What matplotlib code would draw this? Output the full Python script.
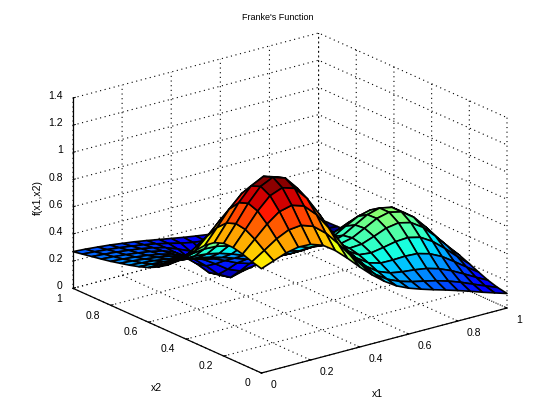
import numpy as np
import matplotlib
matplotlib.use("Agg")
import matplotlib.pyplot as plt
from matplotlib.transforms import Affine2D
from mpl_toolkits.mplot3d import proj3d

plt.rcParams['font.family'] = ['Liberation Sans', 'DejaVu Sans']

title = "Franke's Function"
x_ticks = [0, 0.2, 0.4, 0.6, 0.8, 1]
z_ticks = [0, 0.2, 0.4, 0.6, 0.8, 1, 1.2, 1.4]
z_labels = ['0', '0.2', '0.4', '0.6', '0.8', '1', '1.2', '1.4']
x_labels = ['0', '0.2', '0.4', '0.6', '0.8', '1']

x1 = [0, .05, .1, .15, .2, .25, .3, .35, .4, .45, .5, .55, .6, .65, .7, .75, .8, .85, .9, .95, 1]
x2 = list(x1)
# heights: one row per x2 value, one column per x1 value
heights = [
 [.767,.801,.835,.854,.851,.820,.758,.677,.589,.507,.436,.378,.337,.306,.278,.252,.224,.195,.164,.135,.107],
 [.787,.846,.907,.950,.960,.928,.855,.754,.644,.541,.457,.396,.356,.330,.310,.289,.262,.230,.192,.155,.120],
 [.812,.898,.985,1.053,1.076,1.047,.961,.839,.704,.582,.486,.422,.387,.371,.362,.348,.322,.284,.237,.188,.141],
 [.829,.938,1.050,1.138,1.173,1.145,1.048,.909,.755,.618,.515,.454,.428,.427,.431,.426,.401,.357,.296,.232,.170],
 [.829,.950,1.076,1.176,1.219,1.190,1.090,.941,.780,.637,.535,.482,.472,.488,.507,.513,.491,.437,.362,.279,.201],
 [.803,.924,1.050,1.149,1.194,1.167,1.068,.924,.765,.631,.539,.499,.505,.538,.575,.590,.568,.509,.421,.323,.230],
 [.752,.860,.973,1.061,1.099,1.074,.985,.854,.714,.596,.522,.499,.520,.567,.615,.637,.616,.553,.456,.349,.247],
 [.683,.769,.858,.927,.956,.932,.856,.747,.633,.540,.484,.475,.507,.560,.612,.637,.618,.555,.458,.349,.247],
 [.609,.669,.732,.779,.794,.773,.713,.628,.541,.471,.435,.435,.468,.520,.568,.591,.572,.514,.425,.324,.229],
 [.540,.577,.614,.640,.645,.626,.578,.516,.453,.404,.379,.382,.411,.454,.492,.508,.491,.440,.364,.279,.198],
 [.482,.500,.518,.529,.525,.505,.469,.425,.380,.344,.327,.328,.347,.375,.400,.409,.392,.351,.291,.224,.161],
 [.437,.443,.448,.447,.438,.419,.390,.356,.322,.295,.281,.278,.286,.300,.312,.312,.297,.264,.219,.171,.125],
 [.402,.401,.398,.391,.379,.359,.334,.304,.273,.249,.235,.232,.233,.237,.238,.233,.217,.193,.161,.127,.095],
 [.377,.372,.365,.355,.341,.321,.294,.256,.214,.186,.181,.186,.192,.190,.186,.176,.161,.141,.118,.095,.073],
 [.357,.350,.342,.330,.314,.293,.257,.200,.137,.100,.108,.138,.157,.159,.150,.139,.125,.109,.091,.074,.059],
 [.340,.333,.323,.312,.296,.273,.229,.154,.068,.021,.045,.097,.131,.138,.129,.116,.103,.089,.075,.062,.051],
 [.323,.316,.307,.295,.279,.257,.213,.139,.050,.005,.029,.084,.119,.125,.115,.103,.090,.077,.065,.054,.045],
 [.309,.302,.293,.282,.268,.249,.215,.158,.093,.057,.069,.101,.120,.118,.108,.095,.082,.071,.059,.050,.042],
 [.296,.289,.281,.270,.258,.241,.218,.184,.145,.121,.117,.123,.123,.114,.102,.089,.077,.066,.056,.047,.039],
 [.283,.276,.268,.258,.246,.232,.215,.194,.172,.154,.142,.133,.122,.110,.097,.085,.073,.063,.053,.045,.037],
 [.270,.264,.256,.247,.235,.223,.208,.192,.176,.160,.146,.133,.120,.106,.093,.081,.070,.060,.051,.043,.036],
]

fig = plt.figure(figsize=(5.6, 4.2), dpi=100, facecolor='white')
ax = fig.add_axes([0, 0, 1, 1], projection='3d', proj_type='ortho')
ax.apply_aspect = lambda position=None: None
ax.view_init(elev=30, azim=-127.5)
ax.set_box_aspect((1, 1, 1.03), zoom=1)
ax.set_xlim(0, 1, view_margin=0)
ax.set_ylim(0, 1, view_margin=0)
ax.set_zlim(0, 1.4, view_margin=0)

X, Y = np.meshgrid(x1, x2)
Z = np.array(heights)
ax.plot_surface(X, Y, Z, cmap='jet', rstride=1, cstride=1, shade=False,
                edgecolor='black', linewidth=1.2, antialiased=True)

for axis in (ax.xaxis, ax.yaxis, ax.zaxis):
    axis.set_pane_color((1, 1, 1, 1))
    axis.pane.set_edgecolor('none')
    axis.line.set_color('black')
    axis.line.set_linewidth(0.9)
    axis._axinfo['grid'].update(color='black', linestyle=(0, (1, 3.2)), linewidth=0.8)
    axis._axinfo['tick'].update(inward_factor=0.0, outward_factor=0.12, linewidth={True: 0.7, False: 0.5})
ax.set_xticks(x_ticks, x_labels)
ax.set_yticks(x_ticks, x_labels)
ax.set_zticks(z_ticks, z_labels)
ax.tick_params(labelsize=7.5, pad=0)
ax.set_xlabel('x1', fontsize=7.5, labelpad=0)
ax.set_ylabel('x2', fontsize=7.5, labelpad=0)
ax.set_zlabel('f(x1,x2)', fontsize=7.5, labelpad=0, rotation=90)
fig.text(278/560, 1 - 18/420, title, fontsize=6.5, ha='center', va='center')


def nudge(artist, dx, dy):
    artist.get_transform = lambda: ax.transData + Affine2D().translate(dx, dy)


for axis, ha, dx, dy in ((ax.xaxis, 'left', 0, 6), (ax.yaxis, 'right', 1, 7), (ax.zaxis, 'right', 10.5, 6)):
    for tick in axis.get_major_ticks():
        tick.label1.set_ha(ha)
        nudge(tick.label1, dx, dy)
nudge(ax.xaxis.label, -31, -19)
nudge(ax.yaxis.label, 20, -25)
nudge(ax.zaxis.label, 20, -7)

# fit the axes box to the reference's corner pixels
fig.canvas.draw()
M = ax.get_proj()
def pix(a, b, c):
    u, v, _ = proj3d.proj_transform(a, b, c, M)
    return ax.transData.transform((u, v))
left = pix(0, 1, 0); right = pix(1, 0, 0); front = pix(0, 0, 0); top = pix(1, 1, 1.4)
sx = (507 - 73) / (right[0] - left[0])
sy = ((420 - 33) - (420 - 373)) / (top[1] - front[1])
x0 = 73 - left[0] * sx
y0 = (420 - 373) - front[1] * sy
ax.set_position([x0 / 560, y0 / 420, sx, sy])
fig.savefig('out.png', dpi=100)
